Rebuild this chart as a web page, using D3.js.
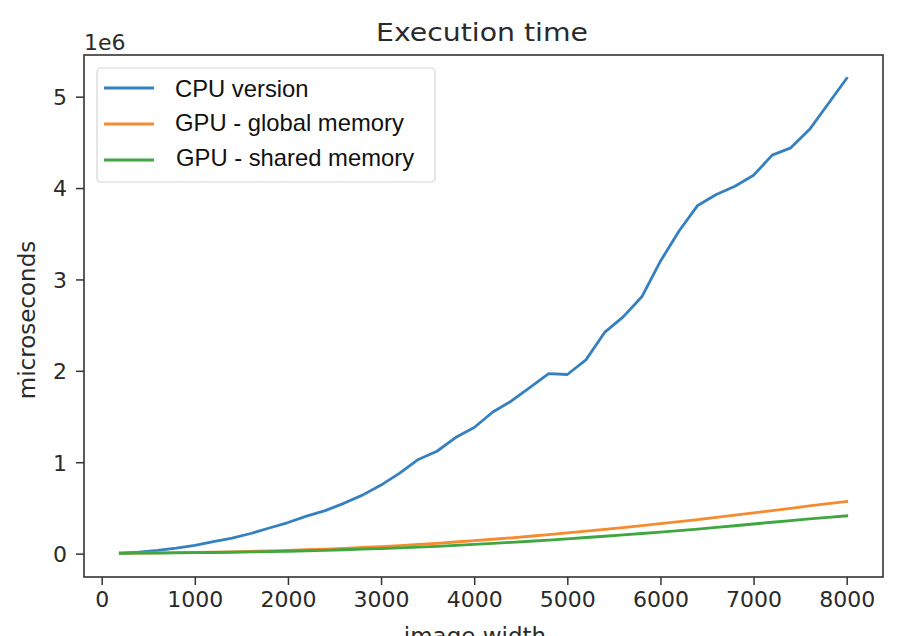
<!DOCTYPE html>
<html>
<head>
<meta charset="utf-8">
<script src="https://cdn.jsdelivr.net/npm/d3@7"></script>
<style>
  html, body { margin: 0; padding: 0; background: #fff; }
  svg { display: block; }
</style>
</head>
<body>
<svg id="chart" width="914" height="636"></svg>
<script>
// ---- data ----
const imageWidths = [200,400,600,800,1000,1200,1400,1600,1800,2000,2200,2400,2600,2800,3000,3200,3400,3600,3800,4000,
                     4200,4400,4600,4800,5000,5200,5400,5600,5800,6000,6200,6400,6600,6800,7000,7200,7400,7600,7800,8000];
// values in units of 1e6 microseconds
const cpuVersion = [0.005,0.015,0.035,0.06,0.09,0.13,0.17,0.22,0.28,0.34,0.41,0.47,0.55,0.64,0.75,0.88,1.03,1.12,1.27,1.38,
                    1.55,1.67,1.82,1.97,1.96,2.12,2.42,2.59,2.81,3.20,3.53,3.81,3.93,4.02,4.14,4.36,4.44,4.64,4.92,5.20];
const gpuGlobal = [0.005,0.006,0.008,0.010,0.013,0.016,0.020,0.025,0.030,0.036,0.043,0.050,0.058,0.067,0.077,0.088,0.100,0.113,0.127,0.142,
                   0.157,0.173,0.190,0.208,0.226,0.245,0.264,0.284,0.305,0.327,0.349,0.372,0.396,0.420,0.445,0.470,0.496,0.522,0.547,0.570];
const gpuShared = [0.004,0.005,0.006,0.008,0.010,0.012,0.015,0.018,0.022,0.026,0.031,0.036,0.042,0.048,0.055,0.063,0.071,0.080,0.090,0.100,
                   0.111,0.123,0.135,0.148,0.162,0.176,0.190,0.205,0.220,0.236,0.252,0.269,0.287,0.305,0.324,0.343,0.362,0.381,0.397,0.413];
const seriesNames = ["CPU version", "GPU - global memory", "GPU - shared memory"];
const seriesColors = ["#3580c0", "#f58b2e", "#40a640"];
const xTicks = [0,1000,2000,3000,4000,5000,6000,7000,8000];
const yTicks = [0,1,2,3,4,5];
const titleText = "Execution time";
const xLabel = "image width";
const yLabel = "microseconds";
const offsetText = "1e6";

// ---- layout ----
const L = 84, R = 883, T = 55, B = 577;
const svg = d3.select("#chart");

const x = d3.scaleLinear().domain([-190, 8390]).range([L, R]);
const y = d3.scaleLinear().domain([-0.256, 5.456]).range([B, T]);

const seriesData = [cpuVersion, gpuGlobal, gpuShared];

const line = d3.line().x((d,i) => x(imageWidths[i])).y(d => y(d));
seriesData.forEach((vals, k) => {
  svg.append("path")
    .datum(vals)
    .attr("d", line)
    .attr("fill", "none")
    .attr("stroke", seriesColors[k])
    .attr("stroke-width", 2.8)
    .attr("stroke-linejoin", "round")
    .attr("stroke-linecap", "square");
});

// axes
const xAxis = d3.axisBottom(x).tickValues(xTicks).tickSize(8).tickPadding(6).tickFormat(d3.format("d"));
const yAxis = d3.axisLeft(y).tickValues(yTicks).tickSize(8).tickPadding(9).tickFormat(d3.format("d"));

const gx = svg.append("g").attr("transform", `translate(0,${B})`).call(xAxis);
const gy = svg.append("g").attr("transform", `translate(${L},0)`).call(yAxis);
[gx, gy].forEach(g => {
  g.select(".domain").remove();
  g.selectAll(".tick line").attr("stroke", "#333").attr("stroke-width", 1.5);
  g.selectAll(".tick text").attr("fill", "#2a2a2a")
    .style("font-family", "DejaVu Sans").style("font-size", "22px");
});
gy.selectAll(".tick text").attr("dy", "0.36em");

// frame
svg.append("rect")
  .attr("x", L).attr("y", T).attr("width", R - L).attr("height", B - T)
  .attr("fill", "none").attr("stroke", "#333").attr("stroke-width", 1.6);

// offset text
svg.append("text").attr("x", L).attr("y", 50).text(offsetText)
  .attr("fill", "#2a2a2a").style("font-family", "DejaVu Sans").style("font-size", "22px");

// title
svg.append("text").attr("x", 482).attr("y", 41).attr("text-anchor", "middle")
  .attr("textLength", 212).attr("lengthAdjust", "spacingAndGlyphs")
  .text(titleText).attr("fill", "#2a2a2a")
  .style("font-family", "DejaVu Sans").style("font-size", "25px");

// axis labels (x label runs off the bottom edge, as in the reference)
svg.append("text").attr("x", 475).attr("y", 644).attr("text-anchor", "middle")
  .text(xLabel).attr("fill", "#2a2a2a")
  .style("font-family", "DejaVu Sans").style("font-size", "23px");
svg.append("text").attr("transform", "translate(35,320) rotate(-90)").attr("text-anchor", "middle")
  .text(yLabel).attr("fill", "#2a2a2a")
  .style("font-family", "DejaVu Sans").style("font-size", "23px");

// legend
const lg = svg.append("g");
lg.append("rect").attr("x", 97).attr("y", 68).attr("width", 338).attr("height", 114)
  .attr("rx", 4).attr("fill", "#fff").attr("fill-opacity", 0.8)
  .attr("stroke", "#d6d6d6").attr("stroke-width", 1.2);
const legendY = [88, 124, 160];
const legendTextY = [96.5, 131, 166];
const legendTextX = [175, 175, 176];
seriesNames.forEach((name, k) => {
  lg.append("line").attr("x1", 104).attr("x2", 154).attr("y1", legendY[k]).attr("y2", legendY[k])
    .attr("stroke", seriesColors[k]).attr("stroke-width", 3);
  lg.append("text").attr("x", legendTextX[k]).attr("y", legendTextY[k]).text(name)
    .attr("fill", "#111").style("font-family", "Liberation Sans, Arial, sans-serif").style("font-size", "23.8px");
});
</script>
</body>
</html>
